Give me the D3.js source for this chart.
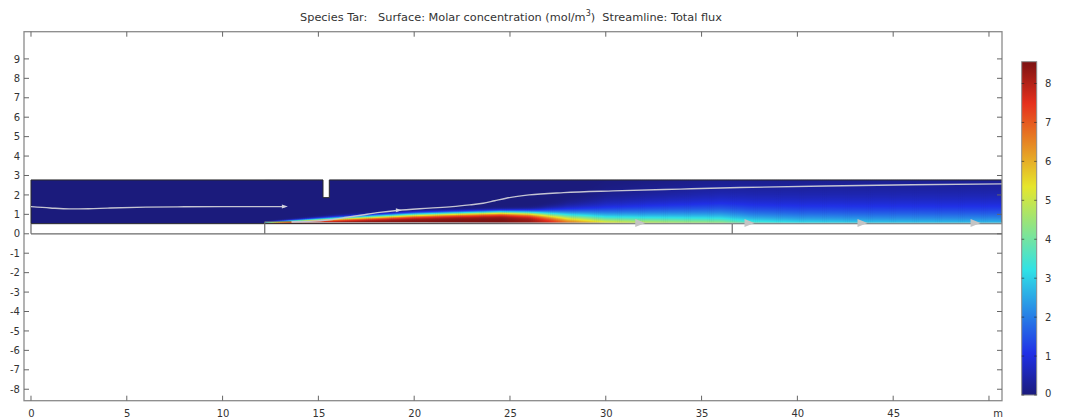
<!DOCTYPE html>
<html><head><meta charset="utf-8">
<script src="https://cdn.jsdelivr.net/npm/d3@7"></script>
<style>html,body{margin:0;padding:0;background:#fff;}svg{display:block;font-family:"DejaVu Sans",sans-serif;}</style>
</head><body><svg id="chart" width="1067" height="419"></svg>
<script>
// ---------------- data ----------------
const xTicks = [0, 5, 10, 15, 20, 25, 30, 35, 40, 45, 50];
const xTickLabels = ["0", "5", "10", "15", "20", "25", "30", "35", "40", "45", "m"];
const yTicks = [9, 8, 7, 6, 5, 4, 3, 2, 1, 0, -1, -2, -3, -4, -5, -6, -7, -8];
const colorTicks = [0, 1, 2, 3, 4, 5, 6, 7, 8];
const colorMin = 0, colorMax = 8.56;

// concentration field read along the bottom of the channel (x stations, m)
const stationX   = [12.2, 13.0, 14.0, 16.0, 18.0, 20.0, 22.0, 24.5, 26.0, 27.0, 28.0, 30.0, 32.0, 34.0, 36.0, 37.5, 40.0, 44.0, 50.7];
const wallConc   = [6.5,  7.5,  8.0,  8.3,  8.45, 8.5,  8.55, 8.55, 8.3,  7.7,  6.8,  5.8,  5.3,  5.0,  4.8,  3.9,  3.4,  3.1,  2.9];
const layerThick = [0.06, 0.12, 0.18, 0.30, 0.40, 0.50, 0.56, 0.62, 0.60, 0.57, 0.55, 0.55, 0.60, 0.65, 0.70, 0.75, 0.80, 0.85, 0.90];
const layerShape = [2.0,  2.5,  2.8,  3.0,  3.5,  4.0,  4.5,  5.0,  4.0,  2.6,  1.8,  1.2,  1.1,  1.05, 1.0,  1.0,  1.0,  1.0,  1.0];

// geometry (m)
const channelX = [0, 50.68];
const channelY = [0.52, 2.77];
const notchX = [15.24, 15.57];
const notchY = [1.86, 2.77];
const bedStart = 12.2;
const wallSteps = [[12.2, 0.62], [36.6, 0.52]];

// streamlines (total flux)
const stream1X = [0, 1, 2, 3, 4, 6, 8, 10, 12, 13.25];
const stream1Y = [1.40, 1.33, 1.28, 1.29, 1.32, 1.37, 1.39, 1.40, 1.40, 1.40];
const stream2X = [13.6, 14.5, 15.6, 16.5, 17.3, 18.2, 19.1, 20.8, 22.0, 22.9, 23.6, 24.2, 24.8, 26.0, 27.8, 30.4, 33.9, 37.0, 41.5, 46.0, 50.68];
const stream2Y = [0.62, 0.64, 0.72, 0.85, 0.97, 1.10, 1.20, 1.32, 1.40, 1.49, 1.57, 1.70, 1.83, 2.00, 2.12, 2.21, 2.30, 2.38, 2.46, 2.52, 2.57];
const stream3X = [13.6, 20, 26, 31.8, 37.5, 43.4, 50.68];
const stream3Y = [0.58, 0.57, 0.56, 0.55, 0.55, 0.55, 0.55];
const bigArrowX = [31.8, 37.5, 43.4, 49.3];
const smallArrows = [[13.25, 1.40], [19.2, 1.21]];

// ---------------- drawing ----------------
const svg = d3.select("#chart");
const W = 1067, H = 419;
const plot = {left: 24, right: 1002, top: 31.7, bottom: 400.7};
const x = d3.scaleLinear().domain([-0.365, 50.68]).range([plot.left, plot.right]);
const y = d3.scaleLinear().domain([-8.59, 10.4]).range([plot.bottom, plot.top]);

const color = d3.scaleLinear()
  .domain([0, 0.125, 0.375, 0.625, 0.875, 1].map(t => colorMin + t * (colorMax - colorMin)))
  .range(["#1b1b7c", "#2030e6", "#30e2e6", "#e6e62c", "#e6301c", "#7c1212"])
  .clamp(true);

svg.append("rect").attr("width", W).attr("height", H).attr("fill", "#fff");

const defs = svg.append("defs");
const clip = defs.append("clipPath").attr("id", "plotclip");
clip.append("rect").attr("x", plot.left).attr("y", plot.top)
  .attr("width", plot.right - plot.left).attr("height", plot.bottom - plot.top);

const g = svg.append("g").attr("clip-path", "url(#plotclip)");

// channel background (zero concentration)
g.append("rect")
  .attr("x", x(channelX[0])).attr("y", y(channelY[1]))
  .attr("width", x(channelX[1]) - x(channelX[0]))
  .attr("height", y(channelY[0]) - y(channelY[1]))
  .attr("fill", color(0));

// concentration field: one column per 0.1 m with a vertical gradient
const cW = d3.scaleLinear().domain(stationX).range(wallConc).clamp(true);
const dL = d3.scaleLinear().domain(stationX).range(layerThick).clamp(true);
const pL = d3.scaleLinear().domain(stationX).range(layerShape).clamp(true);
const colH = channelY[1] - channelY[0];
const dx = 0.1;
const cols = d3.range(bedStart, channelX[1], dx);
cols.forEach((cx, i) => {
  const xm = cx + dx / 2;
  const cw = cW(xm), dl = dL(xm), p = pL(xm);
  const grad = defs.append("linearGradient").attr("id", "col" + i)
    .attr("x1", 0).attr("y1", 1).attr("x2", 0).attr("y2", 0);
  d3.range(0, colH + 0.001, 0.025).forEach(d => {
    const c = cw * Math.exp(-Math.pow(d / dl, p));
    grad.append("stop").attr("offset", d / colH).attr("stop-color", color(c));
  });
  g.append("rect")
    .attr("x", x(cx)).attr("y", y(channelY[1]))
    .attr("width", x(cx + dx) - x(cx) + 0.6)
    .attr("height", y(channelY[0]) - y(channelY[1]))
    .attr("fill", "url(#col" + i + ")");
});

// notch (white cut open at the top)
const outline = "#2b2b2b";
g.append("rect")
  .attr("x", x(notchX[0])).attr("y", y(notchY[1]) - 1)
  .attr("width", x(notchX[1]) - x(notchX[0]))
  .attr("height", y(notchY[0]) - y(notchY[1]) + 1)
  .attr("fill", "#fff");

// channel outline with notch
const oPath = d3.path();
oPath.moveTo(x(notchX[1]), y(channelY[1]));
oPath.lineTo(x(channelX[1]), y(channelY[1]));
oPath.lineTo(x(channelX[1]), y(channelY[0]));
oPath.lineTo(x(channelX[0]), y(channelY[0]));
oPath.lineTo(x(channelX[0]), y(channelY[1]));
oPath.lineTo(x(notchX[0]), y(channelY[1]));
oPath.lineTo(x(notchX[0]), y(notchY[0]));
oPath.lineTo(x(notchX[1]), y(notchY[0]));
oPath.closePath();
g.append("path").attr("d", oPath.toString())
  .attr("fill", "none").attr("stroke", outline).attr("stroke-width", 1);

// lower wall lines (white gap below channel)
const wallC = "#6a6a6a";
g.append("line").attr("x1", x(0)).attr("x2", x(channelX[1]))
  .attr("y1", y(0)).attr("y2", y(0)).attr("stroke", wallC).attr("stroke-width", 1.2);
g.append("line").attr("x1", x(0)).attr("x2", x(0))
  .attr("y1", y(0)).attr("y2", y(channelY[0])).attr("stroke", wallC).attr("stroke-width", 1.2);
wallSteps.forEach(s => {
  g.append("line").attr("x1", x(s[0])).attr("x2", x(s[0]))
    .attr("y1", y(0)).attr("y2", y(s[1])).attr("stroke", wallC).attr("stroke-width", 1.2);
});
g.append("line").attr("x1", x(wallSteps[0][0])).attr("x2", x(13.6))
  .attr("y1", y(wallSteps[0][1])).attr("y2", y(wallSteps[0][1]))
  .attr("stroke", wallC).attr("stroke-width", 1);

// streamlines
const line = d3.line().x(d => x(d[0])).y(d => y(d[1])).curve(d3.curveMonotoneX);
const sColor = "#c4c4d2";
g.append("path").attr("d", line(d3.zip(stream1X, stream1Y)))
  .attr("fill", "none").attr("stroke", sColor).attr("stroke-width", 1.4);
g.append("path").attr("d", line(d3.zip(stream2X, stream2Y)))
  .attr("fill", "none").attr("stroke", sColor).attr("stroke-width", 1.4);
g.append("path").attr("d", line(d3.zip(stream3X, stream3Y)))
  .attr("fill", "none").attr("stroke", "#b9c4c8").attr("stroke-opacity", 0.75).attr("stroke-width", 1.2);

bigArrowX.forEach(ax => {
  const px = x(ax), py = y(0.55);
  g.append("path")
    .attr("d", `M${px - 5},${py - 4}L${px + 5},${py}L${px - 5},${py + 4}Z`)
    .attr("fill", "#c4c4c4");
});
smallArrows.forEach(a => {
  const px = x(a[0]), py = y(a[1]);
  g.append("path")
    .attr("d", `M${px - 3},${py - 2}L${px + 3},${py}L${px - 3},${py + 2}Z`)
    .attr("fill", "#d0d0dc");
});

// frame
const frameC = "#8a8a8a";
svg.append("rect")
  .attr("x", plot.left).attr("y", plot.top)
  .attr("width", plot.right - plot.left).attr("height", plot.bottom - plot.top)
  .attr("fill", "none").attr("stroke", frameC).attr("stroke-width", 1.3);

const tickC = "#666", tl = 5;
xTicks.forEach(t => {
  svg.append("line").attr("x1", x(t)).attr("x2", x(t))
    .attr("y1", plot.bottom).attr("y2", plot.bottom - tl).attr("stroke", tickC);
  svg.append("line").attr("x1", x(t)).attr("x2", x(t))
    .attr("y1", plot.top).attr("y2", plot.top + tl).attr("stroke", tickC);
});
yTicks.forEach(t => {
  svg.append("line").attr("x1", plot.left).attr("x2", plot.left + tl)
    .attr("y1", y(t)).attr("y2", y(t)).attr("stroke", tickC);
  svg.append("line").attr("x1", plot.right).attr("x2", plot.right - tl)
    .attr("y1", y(t)).attr("y2", y(t)).attr("stroke", tickC);
});

const txt = "#333";
xTicks.forEach((t, i) => {
  const lab = xTickLabels[i];
  svg.append("text").attr("x", lab === "m" ? 998 : x(t) + 0.5).attr("y", 417)
    .attr("text-anchor", "middle").attr("font-size", 10).attr("fill", txt).text(lab);
});
yTicks.forEach(t => {
  svg.append("text").attr("x", 20).attr("y", y(t) + 3.6)
    .attr("text-anchor", "end").attr("font-size", 10).attr("fill", txt).text(t);
});

// colorbar
const cb = {x: 1021.7, w: 15, top: 61.7, bottom: 395};
const cy = d3.scaleLinear().domain([colorMin, colorMax]).range([cb.bottom, cb.top]);
const cbg = defs.append("linearGradient").attr("id", "cbgrad")
  .attr("x1", 0).attr("y1", 1).attr("x2", 0).attr("y2", 0);
d3.range(0, 1.0001, 0.025).forEach(t => {
  cbg.append("stop").attr("offset", t).attr("stop-color", color(colorMin + t * (colorMax - colorMin)));
});
svg.append("rect").attr("x", cb.x).attr("y", cb.top).attr("width", cb.w)
  .attr("height", cb.bottom - cb.top).attr("fill", "url(#cbgrad)")
  .attr("stroke", "#8a8a8a").attr("stroke-width", 1);
colorTicks.forEach(t => {
  svg.append("line").attr("x1", cb.x).attr("x2", cb.x + 2.5)
    .attr("y1", cy(t)).attr("y2", cy(t)).attr("stroke", "#222").attr("stroke-opacity", 0.6);
  svg.append("line").attr("x1", cb.x + cb.w).attr("x2", cb.x + cb.w - 2.5)
    .attr("y1", cy(t)).attr("y2", cy(t)).attr("stroke", "#222").attr("stroke-opacity", 0.6);
  svg.append("text").attr("x", 1045).attr("y", Math.min(cy(t), 393) + 3.6)
    .attr("font-size", 10).attr("fill", txt).text(t);
});

// title
const title = svg.append("text").attr("x", 511).attr("y", 20.5)
  .attr("text-anchor", "middle").attr("font-size", 11.3).attr("fill", txt)
  .attr("xml:space", "preserve").style("white-space", "pre");
title.append("tspan").text("Species Tar:   Surface: Molar concentration (mol/m");
title.append("tspan").attr("font-size", 8).attr("dy", -4.5).text("3");
title.append("tspan").attr("dy", 4.5).text(")  Streamline: Total flux");
</script></body></html>
